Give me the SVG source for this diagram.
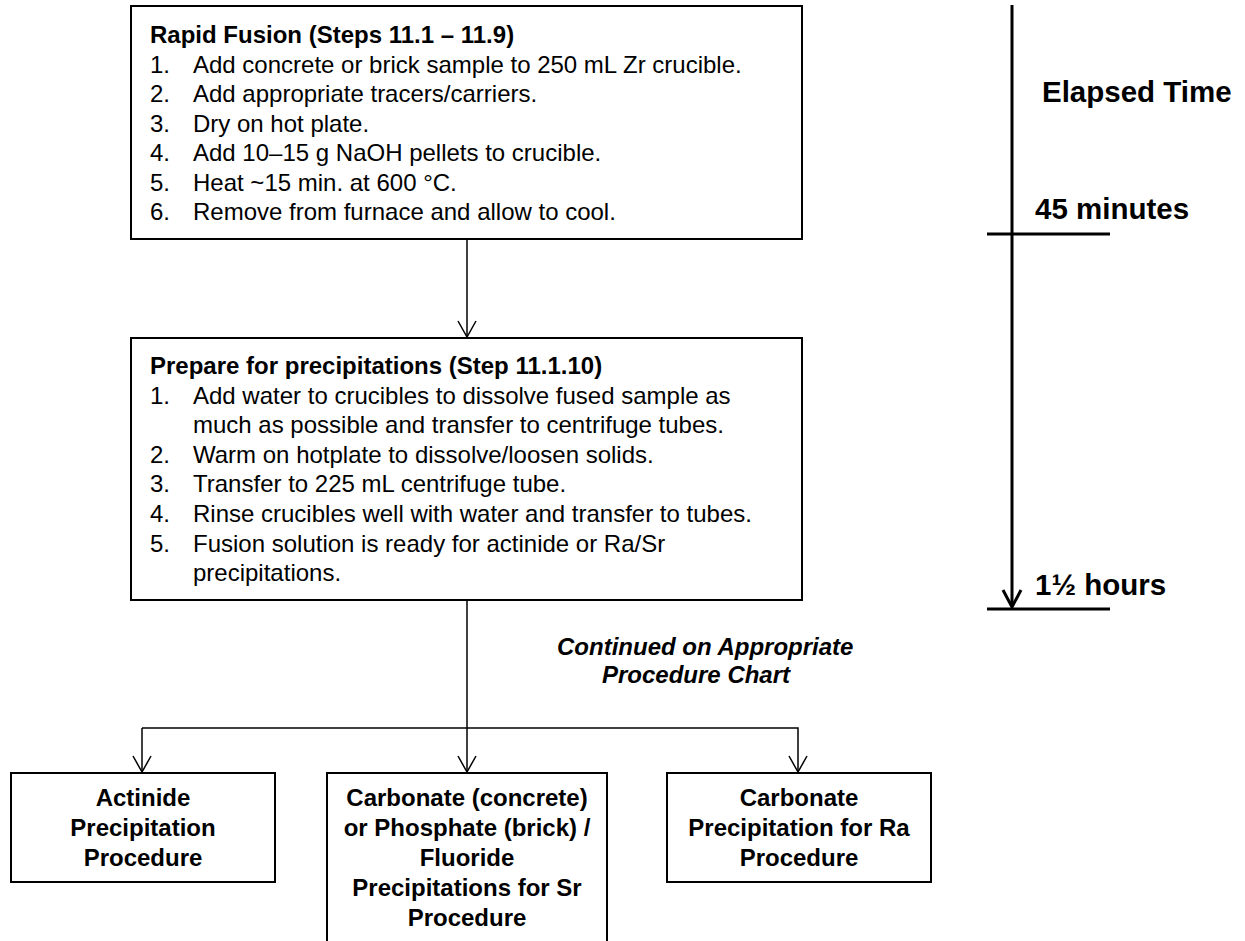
<svg xmlns="http://www.w3.org/2000/svg" width="1245" height="941" viewBox="0 0 1245 941">
<defs>
<style>
text{font-family:"Liberation Sans",Arial,sans-serif;fill:#000}
.b{font-size:24px}
.h{font-size:24px;font-weight:bold}
.c{font-size:24px;font-weight:bold;text-anchor:middle}
.i{font-size:24px;font-weight:bold;font-style:italic}
.t{font-size:29.5px;font-weight:bold}
.box{fill:#fff;stroke:#000;stroke-width:2}
.con{fill:none;stroke:#000;stroke-width:1.5}
.tl{fill:none;stroke:#000;stroke-width:3}
</style>
<marker id="open" markerUnits="userSpaceOnUse" viewBox="-18 -10 20 20" refX="0" refY="0" markerWidth="20" markerHeight="20" orient="auto" overflow="visible">
<path d="M-16,-9 L0,0 L-16,9" fill="none" stroke="#000" stroke-width="1.5"/>
</marker>
</defs>
<rect width="1245" height="941" fill="#fff"/>

<g id="connectors">
<line class="con" x1="467" y1="239" x2="467" y2="337" marker-end="url(#open)"/>
<line class="con" x1="467" y1="600" x2="467" y2="772" marker-end="url(#open)"/>
<line class="con" x1="142" y1="728" x2="142" y2="772" marker-end="url(#open)"/>
<polyline class="con" points="142,728 798,728 798,772" marker-end="url(#open)"/>
</g>

<g id="rapid-fusion">
<rect class="box" x="131" y="6" width="671" height="233"/>
<text class="h" x="150" y="43">Rapid Fusion (Steps 11.1 – 11.9)</text>
<text class="b" x="150" y="72.5">1.</text><text class="b" x="193" y="72.5">Add concrete or brick sample to 250 mL Zr crucible.</text>
<text class="b" x="150" y="102">2.</text><text class="b" x="193" y="102">Add appropriate tracers/carriers.</text>
<text class="b" x="150" y="131.5">3.</text><text class="b" x="193" y="131.5">Dry on hot plate.</text>
<text class="b" x="150" y="161">4.</text><text class="b" x="193" y="161">Add 10–15 g NaOH pellets to crucible.</text>
<text class="b" x="150" y="190.5">5.</text><text class="b" x="193" y="190.5">Heat ~15 min. at 600 °C.</text>
<text class="b" x="150" y="220">6.</text><text class="b" x="193" y="220">Remove from furnace and allow to cool.</text>
</g>

<g id="prepare">
<rect class="box" x="131" y="338" width="671" height="262"/>
<text class="h" x="150" y="374">Prepare for precipitations (Step 11.1.10)</text>
<text class="b" x="150" y="403.6">1.</text><text class="b" x="193" y="403.6">Add water to crucibles to dissolve fused sample as</text>
<text class="b" x="193" y="433.2">much as possible and transfer to centrifuge tubes.</text>
<text class="b" x="150" y="462.8">2.</text><text class="b" x="193" y="462.8">Warm on hotplate to dissolve/loosen solids.</text>
<text class="b" x="150" y="492.4">3.</text><text class="b" x="193" y="492.4">Transfer to 225 mL centrifuge tube.</text>
<text class="b" x="150" y="522">4.</text><text class="b" x="193" y="522">Rinse crucibles well with water and transfer to tubes.</text>
<text class="b" x="150" y="551.6">5.</text><text class="b" x="193" y="551.6">Fusion solution is ready for actinide or Ra/Sr</text>
<text class="b" x="193" y="581.2">precipitations.</text>
</g>

<g id="continued-note">
<text class="i" x="557" y="655">Continued on Appropriate</text>
<text class="i" x="602" y="683">Procedure Chart</text>
</g>

<g id="actinide">
<rect class="box" x="11" y="773" width="264" height="109"/>
<text class="c" x="143" y="806">Actinide</text>
<text class="c" x="143" y="836">Precipitation</text>
<text class="c" x="143" y="866">Procedure</text>
</g>

<g id="sr">
<rect class="box" x="327" y="773" width="280" height="180"/>
<text class="c" x="467" y="806">Carbonate (concrete)</text>
<text class="c" x="467" y="836">or Phosphate (brick) /</text>
<text class="c" x="467" y="866">Fluoride</text>
<text class="c" x="467" y="896">Precipitations for Sr</text>
<text class="c" x="467" y="926">Procedure</text>
</g>

<g id="ra">
<rect class="box" x="667" y="773" width="264" height="109"/>
<text class="c" x="799" y="806">Carbonate</text>
<text class="c" x="799" y="836">Precipitation for Ra</text>
<text class="c" x="799" y="866">Procedure</text>
</g>

<g id="timeline">
<line class="tl" x1="1012" y1="5" x2="1012" y2="606"/>
<polyline class="tl" points="1003,590 1012,607 1021,590"/>
<line class="tl" x1="987" y1="234" x2="1110" y2="234"/>
<line class="tl" x1="987" y1="609" x2="1110" y2="609"/>
<text class="t" x="1042" y="102">Elapsed Time</text>
<text class="t" x="1035" y="219">45 minutes</text>
<text class="t" x="1035" y="595">1½ hours</text>
</g>
</svg>
